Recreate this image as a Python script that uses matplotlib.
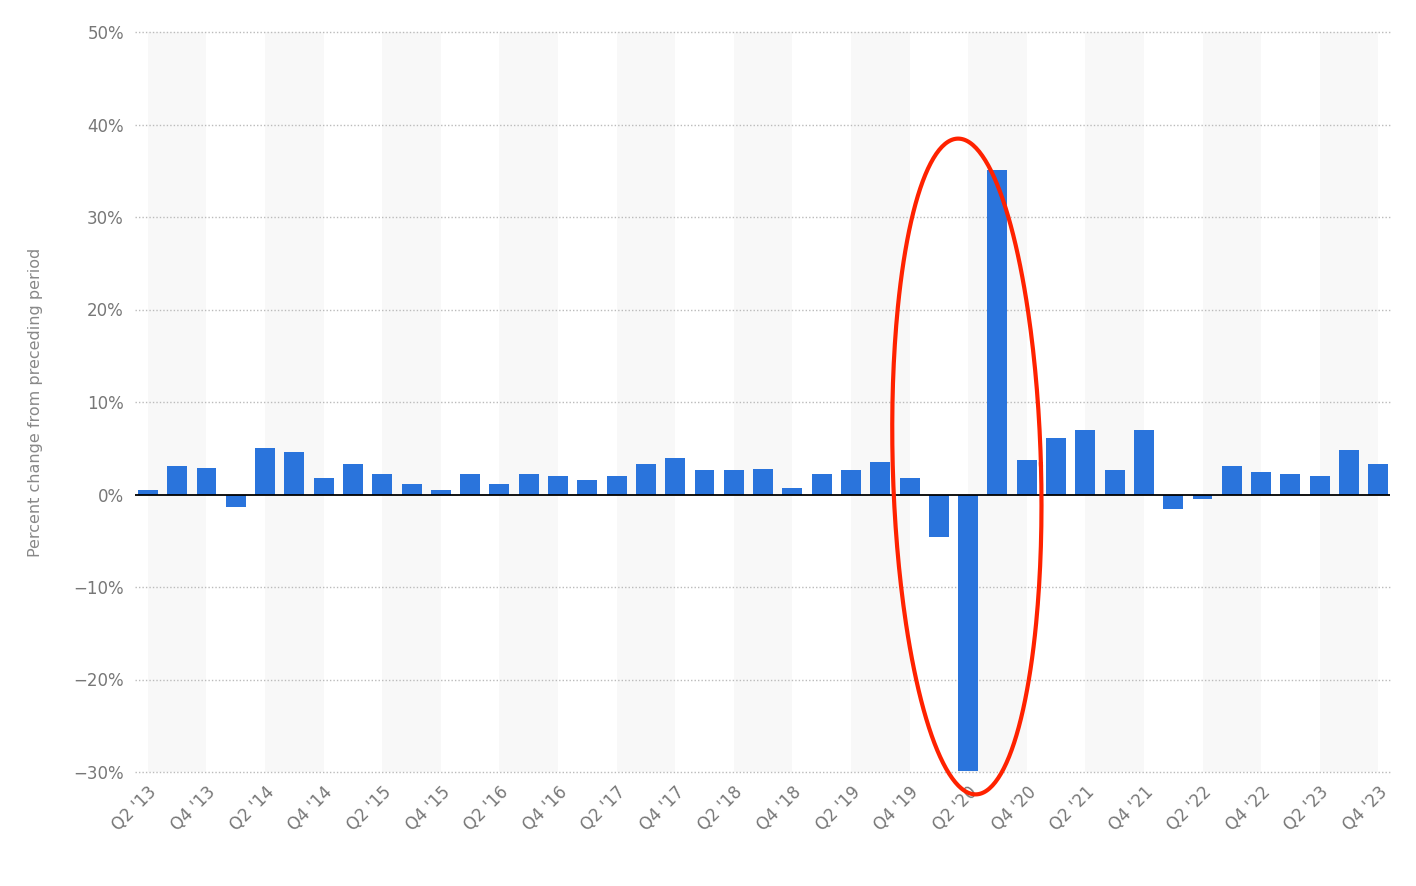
import matplotlib
matplotlib.use("Agg")
import matplotlib.pyplot as plt
import numpy as np

quarters = []
for y in range(2013, 2024):
    for q in range(1, 5):
        if (y == 2013 and q == 1):
            continue
        quarters.append(f"Q{q} '{str(y)[2:]}")
values = [0.5, 3.1, 2.9, -1.4, 5.0, 4.6, 1.8, 3.3, 2.2, 1.1, 0.5, 2.2, 1.1, 2.2, 2.0,
          1.6, 2.0, 3.3, 3.9, 2.6, 2.6, 2.8, 0.7, 2.2, 2.6, 3.5, 1.8, -4.6, -29.9, 35.1,
          3.7, 6.1, 7.0, 2.6, 7.0, -1.6, -0.5, 3.1, 2.4, 2.2, 2.0, 4.8, 3.3]
yticks = [-30, -20, -10, 0, 10, 20, 30, 40, 50]

fig = plt.figure(figsize=(14.16, 8.86), dpi=100)
ax = fig.add_axes([135/1416, 1-772/886, (1390-135)/1416, (772-32)/886])
x = np.arange(len(values))
for k in range(0, len(values) - 1, 4):
    ax.axvspan(k, k + 2, color="#f8f8f8", zorder=0, lw=0)
ax.bar(x, values, width=0.68, color="#2a74dc", zorder=3)
ax.set_xlim(-0.44, 42.4)
ax.set_ylim(-30, 50)
ax.set_yticks(yticks)
ax.set_yticklabels([f"{t}%".replace("-", "\u2212") for t in yticks], color="#777777", fontsize=12)
for t in yticks:
    if t != 0:
        ax.axhline(t, color="#bbbbbb", ls=(0, (1, 1.5)), lw=1, zorder=1, clip_on=False)
ax.axhline(0, color="black", lw=1.3, zorder=4)
ax.set_xticks(x[::2])
ax.set_xticklabels(quarters[::2], rotation=45, ha="right", rotation_mode="anchor",
                   color="#777777", fontsize=12)
ax.tick_params(length=0, pad=8)
for s in ax.spines.values():
    s.set_visible(False)
ax.set_ylabel("Percent change from preceding period", color="#888888", fontsize=11.5, labelpad=22)

# red ellipse annotation (tilted slightly), computed in pixel units then mapped to data
t = np.linspace(0, 2 * np.pi, 300)
cx, cy, a, b, th = 966, 467, 74, 328, np.deg2rad(-1.6)
xp = cx + a * np.cos(t) * np.cos(th) - b * np.sin(t) * np.sin(th)
yp = cy + a * np.cos(t) * np.sin(th) + b * np.sin(t) * np.cos(th)
ax.plot((xp - 148) / 29.26, (495 - yp) / 9.25, color="#ff2200", lw=3, zorder=5, clip_on=False)

fig.savefig("out.png", dpi=100)
